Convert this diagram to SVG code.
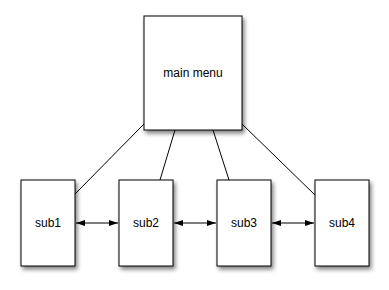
<svg xmlns="http://www.w3.org/2000/svg" width="389" height="290" viewBox="0 0 389 290">
<style>
.box{fill:#fff;stroke:#000;stroke-width:1;filter:url(#sh)}
.lbl{font-family:"Liberation Sans",Arial,sans-serif;font-size:12px;fill:#000;text-anchor:middle;dominant-baseline:central}
.ln{stroke:#000;stroke-width:1;fill:none}
.arr{stroke:#000;stroke-width:1;fill:none;marker-start:url(#ah);marker-end:url(#ah)}
</style>
<defs>
<filter id="sh" x="-20%" y="-20%" width="150%" height="150%">
<feGaussianBlur in="SourceAlpha" stdDeviation="2"/>
<feOffset dx="2" dy="3" result="b"/>
<feComponentTransfer><feFuncA type="linear" slope="0.5"/></feComponentTransfer>
<feMerge><feMergeNode/><feMergeNode in="SourceGraphic"/></feMerge>
</filter>
<marker id="ah" viewBox="0 0 9 6" refX="9" refY="3" markerWidth="9" markerHeight="6" markerUnits="userSpaceOnUse" orient="auto-start-reverse">
<path d="M0,0 L9,3 L0,6 z" fill="#000"/>
</marker>
</defs>
<g id="connectors">
<line class="ln" x1="144" y1="124" x2="75" y2="194"/>
<line class="ln" x1="175" y1="130" x2="160" y2="180"/>
<line class="ln" x1="213" y1="130" x2="229" y2="180"/>
<line class="ln" x1="242" y1="124" x2="315" y2="195"/>
<line class="arr" x1="76" y1="223" x2="118" y2="223"/>
<line class="arr" x1="174" y1="223" x2="216" y2="223"/>
<line class="arr" x1="272" y1="223" x2="314" y2="223"/>
</g>
<g id="main"><rect class="box" x="144" y="16" width="98" height="114"/><text class="lbl" x="193" y="73">main menu</text></g>
<g id="sub1"><rect class="box" x="21" y="180" width="54" height="86"/><text class="lbl" x="48" y="223">sub1</text></g>
<g id="sub2"><rect class="box" x="119" y="180" width="54" height="86"/><text class="lbl" x="146" y="223">sub2</text></g>
<g id="sub3"><rect class="box" x="217" y="180" width="54" height="86"/><text class="lbl" x="244" y="223">sub3</text></g>
<g id="sub4"><rect class="box" x="315" y="180" width="54" height="86"/><text class="lbl" x="342" y="223">sub4</text></g>
</svg>
